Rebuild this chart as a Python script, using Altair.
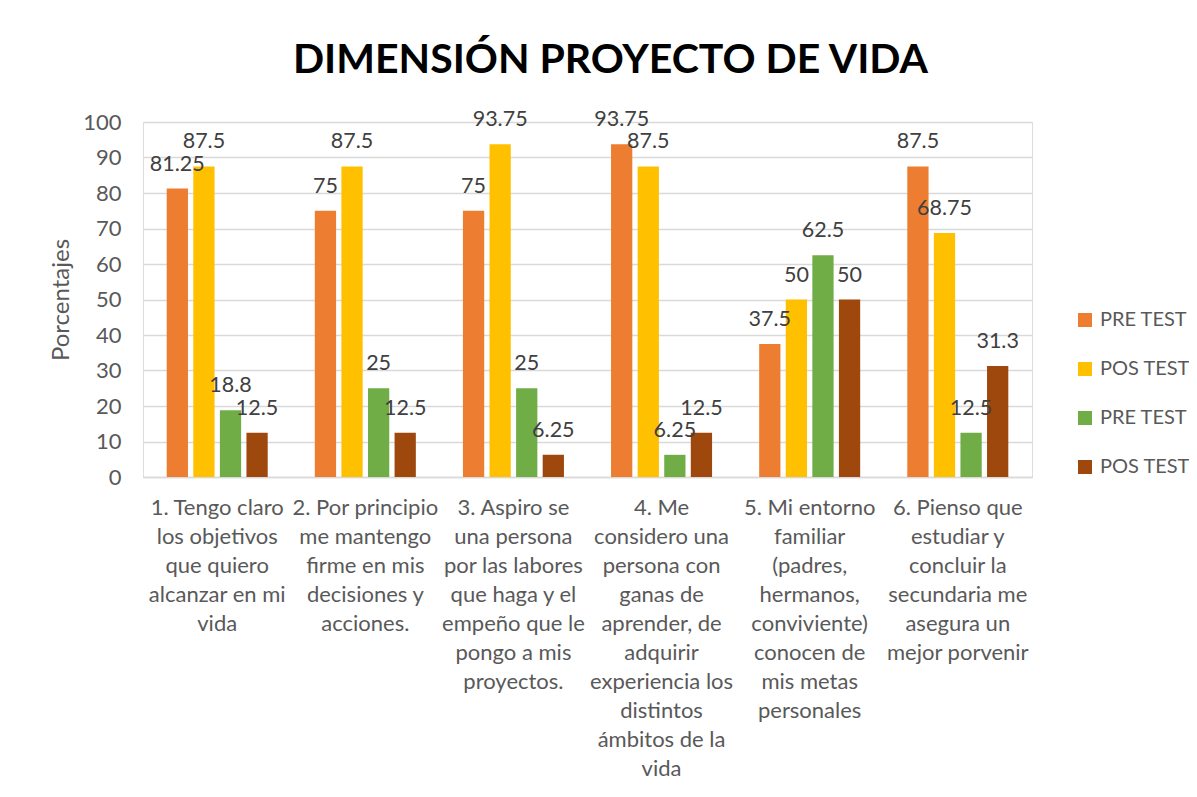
import altair as alt
import pandas as pd

categories = [
    "1. Tengo claro|los objetivos|que quiero|alcanzar en mi|vida",
    "2. Por principio|me mantengo|firme en mis|decisiones y|acciones.",
    "3. Aspiro se|una persona|por las labores|que haga y el|empeño que le|pongo a mis|proyectos.",
    "4. Me|considero una|persona con|ganas de|aprender, de|adquirir|experiencia los|distintos|ámbitos de la|vida",
    "5. Mi entorno|familiar|(padres,|hermanos,|conviviente)|conocen de|mis metas|personales",
    "6. Pienso que|estudiar  y|concluir la|secundaria me|asegura un|mejor porvenir",
]
series = ["PRE TEST", "POS TEST", "PRE TEST ", "POS TEST "]
pre_test_a = [81.25, 75, 75, 93.75, 37.5, 87.5]
pos_test_a = [87.5, 87.5, 93.75, 87.5, 50, 68.75]
pre_test_b = [18.8, 25, 25, 6.25, 62.5, 12.5]
pos_test_b = [12.5, 12.5, 6.25, 12.5, 50, 31.3]
colors = ["#ED7D31", "#FFC000", "#70AD47", "#9E480E"]

rows = []
for s, vals in zip(series, [pre_test_a, pos_test_a, pre_test_b, pos_test_b]):
    for c, v in zip(categories, vals):
        rows.append({"category": c, "series": s, "value": v, "label": f"{v:g}"})
df = pd.DataFrame(rows)

FONT = "Lato"
GRAY = "#595959"

x = alt.X(
    "category:N",
    sort=categories,
    scale=alt.Scale(paddingInner=0.318, paddingOuter=0.16),
    axis=alt.Axis(
        title=None,
        labelExpr="split(datum.label, '|')",
        labelAngle=0,
        labelFont=FONT,
        labelFontSize=22,
        labelColor=GRAY,
        labelLineHeight=29,
        labelPadding=20,
        labelBaseline="top",
        labelLimit=300,
        ticks=False,
        tickSize=0,
        domainColor="#d9d9d9",
        domainWidth=1.5,
        grid=False,
    ),
)
xo = alt.XOffset("series:N", sort=series, scale=alt.Scale(paddingInner=0.2, paddingOuter=0))
y = alt.Y(
    "value:Q",
    scale=alt.Scale(domain=[0, 100]),
    axis=alt.Axis(
        values=list(range(0, 101, 10)),
        title="Porcentajes",
        titleFont=FONT,
        titleFontSize=24,
        titleFontWeight="normal",
        titleColor=GRAY,
        titlePadding=9,
        labelFont=FONT,
        labelFontSize=22,
        labelColor=GRAY,
        labelPadding=22,
        ticks=False,
        tickSize=0,
        domain=False,
        gridColor="#d9d9d9",
        gridWidth=1.5,
    ),
)

bars = alt.Chart(df).mark_bar().encode(
    x=x,
    xOffset=xo,
    y=y,
    color=alt.Color(
        "series:N",
        sort=series,
        scale=alt.Scale(domain=series, range=colors),
        legend=alt.Legend(
            title=None,
            orient="none",
            legendX=932,
            legendY=188,
            labelExpr="trim(datum.label)",
            symbolType="square",
            symbolSize=196,
            symbolStrokeWidth=0,
            rowPadding=29,
            labelFont=FONT,
            labelFontSize=20,
            labelColor=GRAY,
            labelOffset=5,
            labelLimit=200,
            padding=0,
        ),
    ),
)

texts = alt.Chart(df).mark_text(
    baseline="alphabetic", dy=-18, fontSize=21.5, font=FONT, color="#404040"
).encode(x=x, xOffset=xo, y=y, text="label:N")

chart = (
    alt.layer(bars, texts)
    .properties(
        width=889,
        height=355,
        title=alt.Title(
            "DIMENSIÓN PROYECTO DE VIDA",
            font=FONT,
            fontSize=41,
            fontWeight="bold",
            color="black",
            anchor="middle",
            dx=23,
            offset=27,
        ),
        autosize=alt.AutoSizeParams(type="none"),
        padding={"left": 135, "top": 114, "right": 157, "bottom": 312},
    )
    .configure_view(stroke=None)
    .configure(font=FONT)
)

chart.save("out.html", embed_options={"renderer": "svg", "actions": False})
